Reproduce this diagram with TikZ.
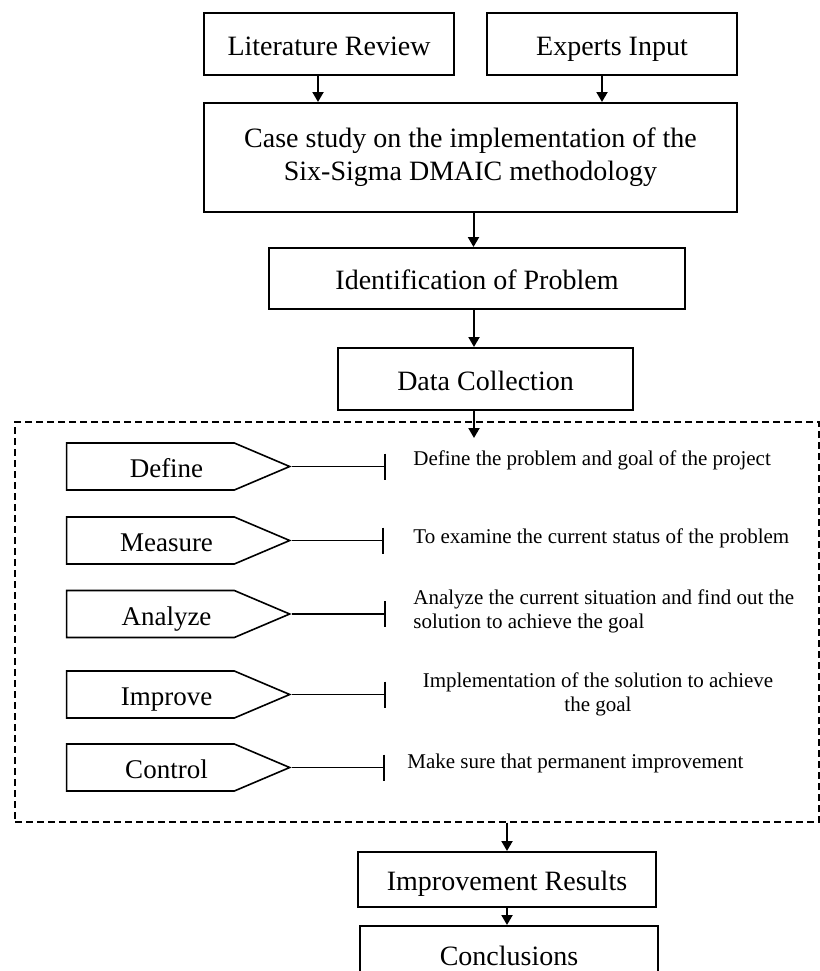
\documentclass[tikz,border=0pt]{standalone}
\usepackage{fontspec}
\setmainfont{Liberation Serif}
\usetikzlibrary{arrows.meta,shapes.symbols}

\tikzset{
  box/.style={draw, line width=1pt, align=center, font=\fontsize{14}{16.5}\selectfont},
  oneline/.style={text height=11pt, text depth=0pt},
  phase/.style={draw, line width=0.8pt, signal, signal to=east, signal pointer angle=46,
    minimum width=111.5pt, minimum height=23.5pt, inner sep=0pt, font=\fontsize{13.5}{16.5}\selectfont,
    text height=11pt, text depth=0pt, execute at begin node={\hspace*{16pt}}},
  note/.style={inner sep=0pt, font=\fontsize{10.5}{12}\selectfont},
  flow/.style={-{Triangle[length=5pt,width=5.5pt]}, line width=1pt},
  tee/.style={-{Bar[width=13pt]}, line width=0.8pt},
  frame/.style={draw, dash pattern=on 3.5pt off 2pt, line width=0.7pt}
}

\begin{document}
\begin{tikzpicture}[x=0.5pt, y=-0.5pt]
  \useasboundingbox (0,0) rectangle (820,971);
  \clip (0,0) rectangle (820,971);

  % inputs and first steps
  \node[box, oneline, minimum width=125pt, minimum height=31pt] (lit) at (329,44) {Literature Review};
  \node[box, oneline, minimum width=125pt, minimum height=31pt] (experts) at (612,44) {Experts Input};
  \node[box, minimum width=266.5pt, minimum height=54.5pt] (case) at (470.5,157.5)
    {Case study on the implementation of the\\Six-Sigma DMAIC methodology};
  \node[box, oneline, minimum width=208pt, minimum height=30.5pt] (ident) at (477,278.5) {Identification of Problem};
  \node[box, oneline, minimum width=147.5pt, minimum height=31pt] (data) at (485.5,379) {Data Collection};

  \draw[flow] ([xshift=-5.5pt]lit.south) -- ([xshift=-5.5pt]lit.south |- case.north);
  \draw[flow] ([xshift=-5pt]experts.south) -- ([xshift=-5pt]experts.south |- case.north);
  \draw[flow] ([xshift=1.5pt]case.south) -- ([xshift=1.5pt]case.south |- ident.north);
  \draw[flow] ([xshift=-1.5pt]ident.south) -- ([xshift=-1.5pt]ident.south |- data.north);

  % DMAIC frame
  \node[frame, minimum width=402pt, minimum height=200pt] (dmaic) at (417,622) {};
  \coordinate (entry) at (474,438);
  \draw[flow] (data.south -| entry) -- (entry);

  \node[phase] (define) at (150.5,466.5) {Define};
  \node[phase] (measure) at (150.5,540.5) {Measure};
  \node[phase] (analyze) at (150.5,614) {Analyze};
  \node[phase] (improve) at (150.5,694.5) {Improve};
  \node[phase] (control) at (150.5,767.5) {Control};

  \coordinate (defbar) at (386,466.5);
  \coordinate (meabar) at (384,540.5);
  \coordinate (anabar) at (386,614);
  \coordinate (impbar) at (386,694.5);
  \coordinate (conbar) at (385,767.5);
  \draw[tee] (define.east) -- (defbar);
  \draw[tee] (measure.east) -- (meabar);
  \draw[tee] (analyze.east) -- (anabar);
  \draw[tee] (improve.east) -- (impbar);
  \draw[tee] (control.east) -- (conbar);

  \node[note, anchor=west] (defnote) at (413,460) {Define the problem and goal of the project};
  \node[note, anchor=west] (meanote) at (413,538) {To examine the current status of the problem};
  \node[note, anchor=west, align=left] (ananote) at (413,611.5)
    {Analyze the current situation and find out the\\solution to achieve the goal};
  \node[note, align=center] (impnote) at (598,694.5) {Implementation of the solution to achieve\\the goal};
  \node[note, anchor=west] (connote) at (407,763) {Make sure that permanent improvement};

  % results
  \node[box, oneline, minimum width=149pt, minimum height=27.5pt] (results) at (507,879.5) {Improvement Results};
  \node[box, oneline, minimum width=149pt, minimum height=28pt] (concl) at (509,954) {Conclusions};
  \draw[flow] (results |- dmaic.south) -- (results.north);
  \draw[flow] (results.south) -- (results.south |- concl.north);
\end{tikzpicture}
\end{document}
